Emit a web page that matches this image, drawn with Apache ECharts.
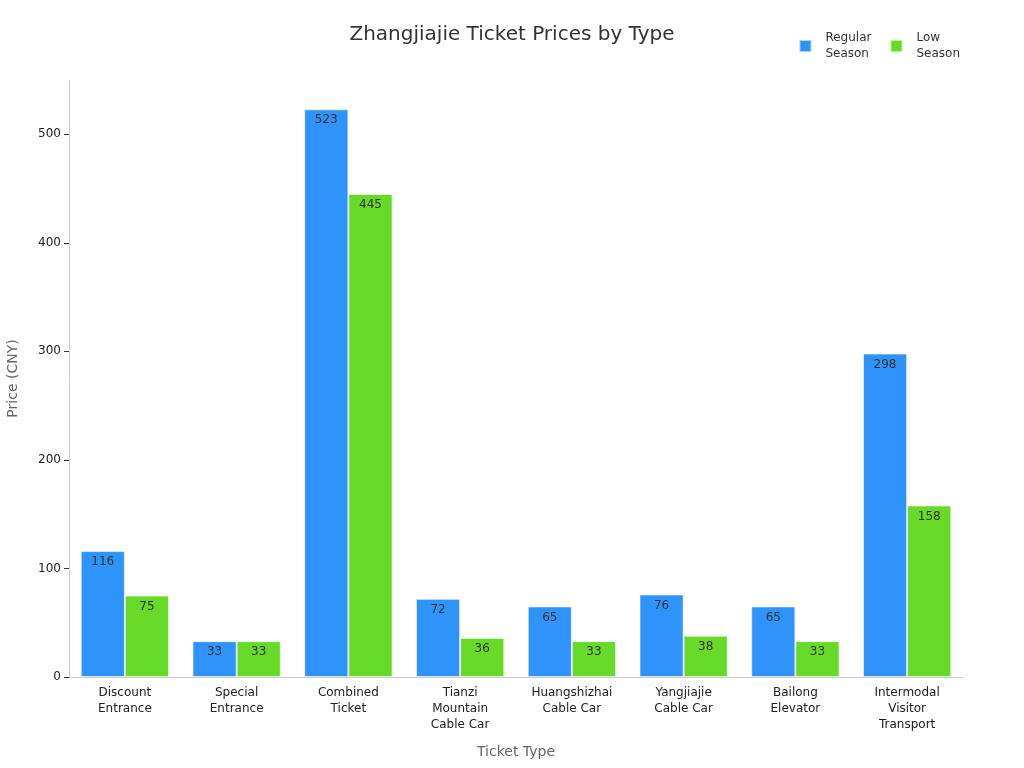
<!DOCTYPE html>
<html>
<head>
<meta charset="utf-8">
<style>
  html, body { margin: 0; padding: 0; background: #fff; }
  #chart { width: 1024px; height: 768px; }
</style>
<script src="https://cdn.jsdelivr.net/npm/echarts@6/dist/echarts.min.js"></script>
</head>
<body>
<div id="chart"></div>
<script>
// ticket categories and prices (CNY)
const ticketTypes = [
  'Discount\nEntrance',
  'Special\nEntrance',
  'Combined\nTicket',
  'Tianzi\nMountain\nCable Car',
  'Huangshizhai\nCable Car',
  'Yangjiajie\nCable Car',
  'Bailong\nElevator',
  'Intermodal\nVisitor\nTransport'
];
const regularSeason = [116, 33, 523, 72, 65, 76, 65, 298];
const lowSeason = [75, 33, 445, 36, 33, 38, 33, 158];
const yTicks = [0, 100, 200, 300, 400, 500];

const chart = echarts.init(document.getElementById('chart'));

const barLabel = {
  show: true,
  position: 'insideTop',
  distance: 5,
  color: '#333',
  fontSize: 12,
  fontFamily: 'DejaVu Sans'
};

chart.setOption({
  textStyle: { fontFamily: 'DejaVu Sans' },
  title: {
    text: 'Zhangjiajie Ticket Prices by Type',
    left: 'center',
    top: 20,
    textStyle: { fontSize: 20, fontWeight: 'normal', color: '#333' }
  },
  legend: {
    right: 59,
    top: 25,
    itemWidth: 12,
    itemHeight: 12,
    itemGap: 18,
    icon: 'rect',
    textStyle: { fontSize: 12, color: '#333', lineHeight: 16, padding: [0, 0, 0, 9] },
    data: ['Regular\nSeason', 'Low\nSeason']
  },
  grid: { left: 69, right: 61, top: 80, bottom: 91, containLabel: false, outerBoundsMode: 'none' },
  xAxis: {
    type: 'category',
    data: ticketTypes,
    name: 'Ticket Type',
    nameLocation: 'middle',
    nameGap: 68,
    nameTextStyle: { fontSize: 14, color: '#666' },
    axisLine: { lineStyle: { color: '#ccc' } },
    axisTick: { alignWithLabel: true, lineStyle: { color: '#999' } },
    axisLabel: { interval: 0, fontSize: 12, color: '#222', lineHeight: 16 }
  },
  yAxis: {
    type: 'value',
    min: 0,
    max: 550,
    name: 'Price (CNY)',
    nameLocation: 'middle',
    nameGap: 49,
    nameTextStyle: { fontSize: 14, color: '#666' },
    axisLine: { show: true, lineStyle: { color: '#ccc' } },
    axisTick: { show: true, customValues: yTicks, lineStyle: { color: '#333' } },
    axisLabel: { customValues: yTicks, fontSize: 12, color: '#222' },
    splitLine: { show: false }
  },
  series: [
    {
      name: 'Regular\nSeason',
      type: 'bar',
      data: regularSeason,
      barGap: '0%',
      barCategoryGap: '21%',
      itemStyle: { color: '#2E93FA', borderColor: 'rgba(255,255,255,0.6)', borderWidth: 1 },
      label: barLabel
    },
    {
      name: 'Low\nSeason',
      type: 'bar',
      data: lowSeason,
      itemStyle: { color: '#66DA26', borderColor: 'rgba(255,255,255,0.6)', borderWidth: 1 },
      label: barLabel
    }
  ]
});
</script>
</body>
</html>
